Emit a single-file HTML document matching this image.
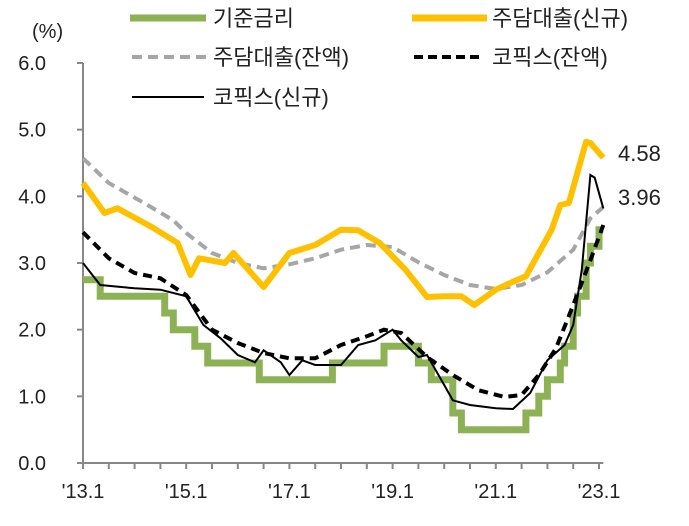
<!DOCTYPE html>
<html><head><meta charset="utf-8"><style>
body{margin:0;background:#fff}
svg text{font-family:"Liberation Sans","Noto Sans CJK KR",sans-serif;fill:#222}
</style></head><body>
<svg id="c" width="689" height="521" xmlns="http://www.w3.org/2000/svg">
<g id="axes"></g>
<g id="series"></g>
<g id="legend">
 <line x1="130" y1="18" x2="206" y2="18" stroke="#8DB255" stroke-width="7"/>
 <text x="213" y="26" font-size="22">기준금리</text>
 <line x1="412" y1="18" x2="487" y2="18" stroke="#FFC000" stroke-width="7"/>
 <text x="492" y="26" font-size="22">주담대출(신규)</text>
 <line x1="132" y1="57" x2="206" y2="57" stroke="#A6A6A6" stroke-width="4" stroke-dasharray="10,6"/>
 <text x="213" y="65" font-size="22">주담대출(잔액)</text>
 <line x1="414" y1="57" x2="484" y2="57" stroke="#000" stroke-width="4" stroke-dasharray="9,5"/>
 <text x="492" y="65" font-size="22">코픽스(잔액)</text>
 <line x1="132" y1="97" x2="204" y2="97" stroke="#000" stroke-width="2"/>
 <text x="213" y="105" font-size="22">코픽스(신규)</text>
</g>
<text x="32" y="38" font-size="20">(%)</text>
<text x="618" y="161" font-size="22">4.58</text>
<text x="618" y="205" font-size="22">3.96</text>
</svg>
<script>
const yTicks=[0,1,2,3,4,5,6];
const xLabels=["'13.1","'15.1","'17.1","'19.1","'21.1","'23.1"];
const xLabelMonths=[0,24,48,72,96,120];
const baseMonths=[0,4,19,21,26,29,41,58,70,78,81,86,88,103,106,108,111,112,114,115,117,118,120,121];
const baseRates=[2.75,2.5,2.25,2.0,1.75,1.5,1.25,1.5,1.75,1.5,1.25,0.75,0.5,0.75,1.0,1.25,1.5,1.75,2.25,2.5,3.0,3.25,3.5,3.5];
const newMortMonths=[0,5,8,16,22,25,27,33,35,42,48,54,60,64,69,75,80,84,88,91,96,100,103,109,111,113,117,118,121];
const newMortVals=[4.2,3.75,3.82,3.54,3.3,2.82,3.07,3.0,3.15,2.64,3.15,3.27,3.5,3.49,3.3,2.9,2.49,2.5,2.5,2.37,2.6,2.72,2.8,3.5,3.87,3.9,4.82,4.8,4.58];
const outMortMonths=[0,6,15,21,24,30,36,42,48,54,60,66,72,78,84,90,96,102,108,114,118,121];
const outMortVals=[4.57,4.2,3.87,3.64,3.45,3.15,3.0,2.92,2.98,3.07,3.2,3.27,3.24,3.01,2.82,2.67,2.61,2.67,2.86,3.2,3.67,3.84];
const cofixOutMonths=[0,6,12,18,24,30,36,42,48,54,60,66,70,74,80,86,92,98,102,106,110,114,118,121];
const cofixOutVals=[3.46,3.07,2.85,2.77,2.52,2.0,1.8,1.65,1.57,1.57,1.77,1.9,2.0,1.95,1.59,1.32,1.09,0.99,1.02,1.32,1.72,2.37,3.04,3.57];
const cofixNewMonths=[0,4,12,18,24,28,32,36,40,42,46,48,51,54,60,64,68,72,74,78,80,84,86,90,96,100,104,108,112,114,116,118,119,121];
const cofixNewVals=[3.0,2.67,2.62,2.6,2.5,2.07,1.87,1.62,1.51,1.69,1.51,1.32,1.54,1.47,1.47,1.77,1.84,2.0,1.84,1.59,1.62,1.17,0.94,0.87,0.82,0.81,1.05,1.54,1.77,2.07,2.9,4.32,4.28,3.82];

const NS="http://www.w3.org/2000/svg";
const X=m=>83+m*4.3, Y=v=>463-v*66.67;
function mk(tag,attrs,parent){const e=document.createElementNS(NS,tag);for(const k in attrs)e.setAttribute(k,attrs[k]);parent.appendChild(e);return e;}
const axes=document.getElementById('axes'), ser=document.getElementById('series');
let e=mk('line',{x1:X(0),y1:Y(6),x2:X(0),y2:Y(0),stroke:'#888','stroke-width':2},axes);


e=mk('line',{x1:X(0),y1:Y(0),x2:X(121),y2:Y(0),stroke:'#888','stroke-width':2},axes);


yTicks.forEach(v=>{
 const t=mk('line',{x1:X(0)-6,y1:Y(v),x2:X(0),y2:Y(v),stroke:'#888','stroke-width':2},axes);
 
 
 const l=mk('text',{x:46,y:Y(v)+7,'font-size':20,'text-anchor':'end'},axes);l.textContent=v.toFixed(1);
 
 
});
for(let m=0;m<=120;m+=6){
 const t=mk('line',{x1:X(m),y1:Y(0),x2:X(m),y2:Y(0)+6,stroke:'#888','stroke-width':2},axes);
 
 
}
xLabels.forEach((s,i)=>{
 const l=mk('text',{x:X(xLabelMonths[i]),y:498,'font-size':20,'text-anchor':'middle'},axes);l.textContent=s;
 
 
});
function poly(ms,vs){return ms.map((m,i)=>X(m).toFixed(1)+','+Y(vs[i]).toFixed(1)).join(' ');}
// base rate step
let pts=[];
baseMonths.forEach((m,i)=>{ if(i>0) pts.push(X(m).toFixed(1)+','+Y(baseRates[i-1]).toFixed(1)); pts.push(X(m).toFixed(1)+','+Y(baseRates[i]).toFixed(1)); });
e=mk('polyline',{points:pts.join(' '),fill:'none',stroke:'#8DB255','stroke-width':7},ser);


e=mk('polyline',{points:poly(outMortMonths,outMortVals),fill:'none',stroke:'#A6A6A6','stroke-width':4,'stroke-dasharray':'10,6'},ser);


e=mk('polyline',{points:poly(newMortMonths,newMortVals),fill:'none',stroke:'#FFC000','stroke-width':6,'stroke-linejoin':'round'},ser);


e=mk('polyline',{points:poly(cofixOutMonths,cofixOutVals),fill:'none',stroke:'#000','stroke-width':4,'stroke-dasharray':'9,6'},ser);


e=mk('polyline',{points:poly(cofixNewMonths,cofixNewVals),fill:'none',stroke:'#000','stroke-width':2},ser);


</script>
</body></html>
